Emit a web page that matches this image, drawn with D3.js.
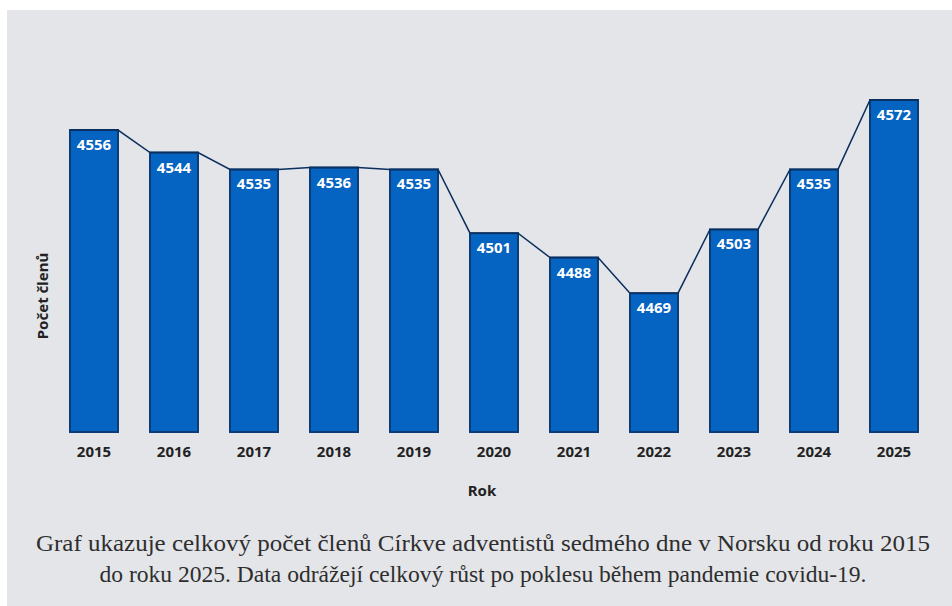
<!DOCTYPE html>
<html><head><meta charset="utf-8">
<script src="https://cdn.jsdelivr.net/npm/d3@7"></script>
<style>
html,body{margin:0;padding:0;background:#fff;}
svg{display:block;}
</style></head>
<body>
<svg id="c" width="952" height="606"></svg>
<script>
const years = ["2015","2016","2017","2018","2019","2020","2021","2022","2023","2024","2025"];
const members = [4556,4544,4535,4536,4535,4501,4488,4469,4503,4535,4572];
const xTitle = "Rok";
const yTitle = "Počet členů";
const captionLines = [
  "Graf ukazuje celkový počet členů Církve adventistů sedmého dne v Norsku od roku 2015",
  "do roku 2025. Data odrážejí celkový růst po poklesu během pandemie covidu-19."
];

const sans = "'Noto Sans','Open Sans',sans-serif";
const svg = d3.select("#c");
svg.append("rect").attr("x",7).attr("y",10).attr("width",945).attr("height",596).attr("fill","#e4e5e9");

const x = d3.scaleBand().domain(years).range([54,934]).paddingInner(0.4).paddingOuter(0.2);
const y = d3.scaleLinear().domain([4395,4580]).range([432,85]);

const g = svg.append("g");
const pts = [];
years.forEach((yr,i)=>{
  pts.push([x(yr), y(members[i])]);
  pts.push([x(yr)+x.bandwidth(), y(members[i])]);
});
g.selectAll("rect.bar").data(years).join("rect").attr("class","bar")
  .attr("x",d=>x(d)).attr("width",x.bandwidth())
  .attr("y",(d,i)=>y(members[i])).attr("height",(d,i)=>y.range()[0]-y(members[i]))
  .attr("fill","#0563c1").attr("stroke","#0d3b73").attr("stroke-width",2);
g.append("path").attr("d",d3.line()(pts)).attr("fill","none").attr("stroke","#0b2f5e").attr("stroke-width",1.5);

g.selectAll("text.val").data(years).join("text").attr("class","val")
  .attr("x",d=>x(d)+x.bandwidth()/2).attr("y",(d,i)=>y(members[i])+20)
  .attr("text-anchor","middle").attr("fill","#fff")
  .attr("font-family",sans).attr("font-weight","bold").attr("font-size",15)
  .text((d,i)=>members[i]);

const xa = svg.append("g").attr("transform","translate(0,432)")
  .call(d3.axisBottom(x).tickSize(0).tickPadding(14));
xa.select(".domain").remove();
xa.selectAll("text").attr("font-family",sans).attr("font-weight","bold")
  .attr("font-size",15).attr("fill","#222");

svg.append("text").attr("x",482).attr("y",496).attr("text-anchor","middle")
  .attr("font-family",sans).attr("font-weight","bold").attr("font-size",15).attr("fill","#222")
  .text(xTitle);
svg.append("text").attr("transform","translate(48,296) rotate(-90)").attr("text-anchor","middle")
  .attr("font-family",sans).attr("font-weight","bold").attr("font-size",15).attr("fill","#222")
  .text(yTitle);

svg.selectAll("text.cap").data(captionLines).join("text").attr("class","cap")
  .attr("x",483).attr("y",(d,i)=>551+i*31).attr("text-anchor","middle")
  .attr("font-family","'Liberation Serif','DejaVu Serif',serif").attr("font-size",24).attr("fill","#2e2e2e")
  .attr("textLength",(d,i)=>i===0?894:767).attr("lengthAdjust","spacingAndGlyphs")
  .text(d=>d);
</script>
</body></html>
